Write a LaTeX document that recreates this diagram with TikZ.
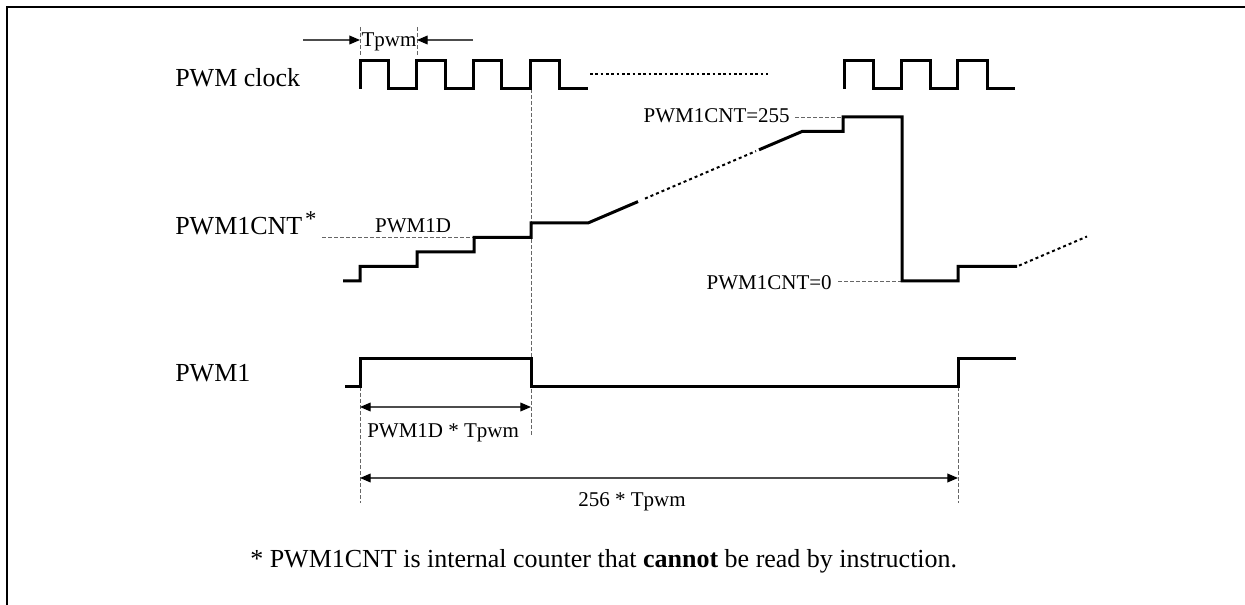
\documentclass[tikz,border=0pt]{standalone}
\usepackage{fontspec}
\setmainfont{Liberation Serif}
\usetikzlibrary{arrows.meta}
\begin{document}
\begin{tikzpicture}[x=0.75pt,y=-0.75pt,
  wave/.style={line width=2.25pt, line join=miter, line cap=butt},
  guide/.style={line width=0.7pt, draw=black!60, dash pattern=on 3pt off 1.5pt},
  dotwave/.style={line width=1.5pt, dash pattern=on 2.25pt off 2.25pt},
  dotclk/.style={line width=0.9pt, dash pattern=on 2pt off 2pt},
  mytip/.tip={Triangle[length=8pt,width=6.6pt,color=black]},
  dimline/.style={line width=0.9pt, draw=black!70},
  big/.style={font=\fontsize{19.5}{22}\selectfont, inner sep=0pt},
  small/.style={font=\fontsize{15.75}{18}\selectfont, inner sep=0pt}]

\useasboundingbox (0,0) rectangle (1245,605);
\draw[line width=1.5pt] (7,606) -- (7,7) -- (1246,7);

% labels
\node[big, anchor=base west] (lclk) at (175,87) {PWM clock};
\node[big, anchor=base west] (lcnt) at (175,235) {PWM1CNT\hspace{2pt}\raisebox{6pt}{\fontsize{17}{18}\selectfont *}};
\node[big, anchor=base west] (lpwm) at (175,382) {PWM1};
\node[small, anchor=base] (ltp) at (389,47) {Tpwm};
\node[small, anchor=base] (lpd) at (413,233) {PWM1D};
\node[small, anchor=base east] (l255) at (790,123) {PWM1CNT=255};
\node[small, anchor=base east] (l0) at (832,290) {PWM1CNT=0};
\node[small, anchor=base west] (ldt) at (367,437) {PWM1D * Tpwm};
\node[small, anchor=base] (l256) at (632,506) {256 * Tpwm};
\node[big, anchor=base west] (foot) at (250,567) {* PWM1CNT is internal counter that \textbf{cannot} be read by instruction.};

% guide lines
\draw[guide] (360,27) -- (360,55);
\draw[guide] (417,27) -- (417,55);
\draw[guide] (531,89) -- (531,435);
\draw[guide] (360,387) -- (360,503);
\draw[guide] (958,387) -- (958,503);
\draw[guide] (322,237.5) -- (474,237.5);
\draw[guide] (795,117) -- (843,117);
\draw[guide] (838,281) -- (902,281);

% Tpwm arrows
\coordinate (t0) at (303,40);
\coordinate (t1) at (360,40);
\coordinate (t2) at (417,40);
\coordinate (t3) at (473,40);
\draw[dimline, -mytip] (t0) -- (t1);
\draw[dimline, -mytip] (t3) -- (t2);

% dimension arrows
\coordinate (d0) at (360,407);
\coordinate (d1) at (531,407);
\draw[dimline, mytip-mytip] (d0) -- (d1);
\coordinate (e0) at (360,478);
\coordinate (e1) at (958,478);
\draw[dimline, mytip-mytip] (e0) -- (e1);

% PWM clock
\draw[wave] (360,89) -- (360,61) -- (388.3,61) -- (388.3,89) -- (416.7,89) -- (416.7,61)
  -- (445,61) -- (445,89) -- (473.3,89) -- (473.3,61) -- (501.7,61) -- (501.7,89)
  -- (530,89) -- (530,61) -- (559,61) -- (559,89) -- (588,89);
\draw[dotclk] (590,74) -- (768,74);
\draw[wave] (844,89) -- (844,61) -- (873,61) -- (873,89) -- (901,89) -- (901,61)
  -- (930,61) -- (930,89) -- (957,89) -- (957,61) -- (987,61) -- (987,89) -- (1015,89);

% counter
\draw[wave] (343,281) -- (360,281) -- (360,266.5) -- (417,266.5) -- (417,252) -- (474,252)
  -- (474,237.5) -- (531,237.5) -- (531,223) -- (588,223) -- (638,201.6);
\draw[dotwave] (645,198.6) -- (756,151.1);
\draw[wave] (759,149.8) -- (802,131.5) -- (843,131.5) -- (843,117) -- (902,117)
  -- (902,281) -- (958,281) -- (958,266.5) -- (1017,266.5);
\draw[dotwave] (1019,265.6) -- (1087,236.5);

% PWM1
\draw[wave] (345,387) -- (360,387) -- (360,359) -- (531,359) -- (531,387) -- (958,387)
  -- (958,359) -- (1016,359);
\end{tikzpicture}
\end{document}
